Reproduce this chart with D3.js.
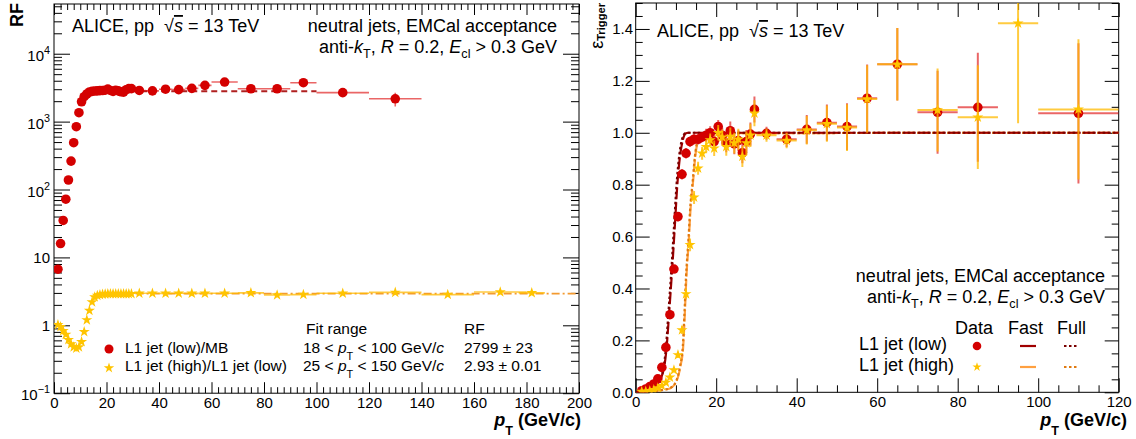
<!DOCTYPE html>
<html><head><meta charset="utf-8">
<script src="https://cdn.jsdelivr.net/npm/d3@7"></script>
<style>
body{margin:0;background:#fff}
svg{display:block}
text{font-family:"Liberation Sans",Arial,Helvetica,sans-serif;white-space:pre}
</style>
</head><body>
<svg id="c" width="1136" height="439"></svg>
<script>
// ================= DATA =================
// Left panel: rejection factor RF vs pT
const rfLowX = [1.5,2.5,3.5,4.5,5.5,6.5,7.5,8.5,9.5,10.5,11.5,12.5,13.5,14.5,15.5,16.5,17.5,18.5,19.5,20.5,21.5,22.5,23.5,24.5,25.5,26.5,27.5,28.5,29.5,32.5,37.5,42.5,47.5,52.5,57.5,65,75,85,95,110,130];
const rfLowY = [6.7,16,35,72,138,262,489,841,1352,1963,2330,2550,2730,2790,2820,2840,2860,2870,2900,3020,2880,2780,2900,2840,2750,2720,2950,3060,3060,2880,2840,3000,2960,3090,3420,3830,3050,3050,3740,2670,2170];
const rfLowErr = [0.5,1,2,3,5,8,12,18,25,35,40,45,50,50,50,50,50,50,55,55,60,60,60,60,65,65,70,70,70,60,70,80,100,120,160,250,220,260,400,350,500];
const rfLowXe = [0.5,0.5,0.5,0.5,0.5,0.5,0.5,0.5,0.5,0.5,0.5,0.5,0.5,0.5,0.5,0.5,0.5,0.5,0.5,0.5,0.5,0.5,0.5,0.5,0.5,0.5,0.5,0.5,0.5,2.5,2.5,2.5,2.5,2.5,2.5,5,5,5,5,10,10];

const rfHighX = [1.5,2.5,3.5,4.5,5.5,6.5,7.5,8.5,9.5,10.5,11.5,12.5,13.5,14.5,15.5,16.5,17.5,18.5,19.5,20.5,21.5,22.5,23.5,24.5,25.5,26.5,27.5,28.5,29.5,32.5,37.5,42.5,47.5,52.5,57.5,65,75,85,95,110,130,150,170,182];
const rfHighY = [1.02,0.95,0.83,0.73,0.61,0.53,0.48,0.46,0.48,0.57,0.80,1.2,1.65,2.2,2.6,2.75,2.82,2.86,2.88,2.9,2.9,2.92,2.9,2.91,2.9,2.92,2.9,2.91,2.92,2.96,2.96,2.95,2.96,2.95,2.95,2.96,3.0,2.8,2.83,2.96,3.05,2.83,3.1,3.0];
const rfHighErr = [0.03,0.02,0.015,0.012,0.01,0.008,0.008,0.008,0.008,0.01,0.012,0.015,0.02,0.02,0.02,0.02,0.02,0.02,0.02,0.02,0.02,0.02,0.02,0.02,0.02,0.02,0.02,0.02,0.02,0.02,0.02,0.025,0.03,0.03,0.04,0.04,0.05,0.06,0.07,0.06,0.07,0.09,0.12,0.14];
const rfHighXe = [0.5,0.5,0.5,0.5,0.5,0.5,0.5,0.5,0.5,0.5,0.5,0.5,0.5,0.5,0.5,0.5,0.5,0.5,0.5,0.5,0.5,0.5,0.5,0.5,0.5,0.5,0.5,0.5,0.5,2.5,2.5,2.5,2.5,2.5,2.5,5,5,5,5,10,10,10,10,5];

const fitLowRange = [18, 100];  const fitLowValue = 2799;
const fitHighRange = [25, 200]; const fitHighValue = 2.93;

// Right panel: trigger efficiency
const effLowX = [1.5,2.5,3.5,4.5,5.5,6.5,7.5,8.5,9.5,10.5,11.5,12.5,13.5,14.5,15.5,16.5,17.5,18.5,19.5,20.5,21.5,22.5,23.5,24.5,25.5,26.5,27.5,28.5,29.5,32.5,37.5,42.5,47.5,52.5,57.5,65,75,85,110];
const effLowY = [0.006,0.013,0.022,0.032,0.052,0.096,0.173,0.299,0.475,0.677,0.840,0.921,0.966,0.975,0.975,0.983,0.99,1.0,0.966,1.024,0.99,0.96,1.008,0.957,0.97,0.923,0.966,0.995,1.09,0.998,0.975,1.013,1.039,1.024,1.133,1.264,1.079,1.098,1.075];
const effLowErr = [0.002,0.003,0.004,0.005,0.006,0.008,0.01,0.012,0.015,0.018,0.02,0.02,0.02,0.02,0.02,0.02,0.025,0.025,0.03,0.025,0.03,0.035,0.035,0.04,0.04,0.04,0.045,0.045,0.05,0.025,0.03,0.055,0.07,0.09,0.13,0.14,0.16,0.21,0.27];
const effLowXe = [0.5,0.5,0.5,0.5,0.5,0.5,0.5,0.5,0.5,0.5,0.5,0.5,0.5,0.5,0.5,0.5,0.5,0.5,0.5,0.5,0.5,0.5,0.5,0.5,0.5,0.5,0.5,0.5,0.5,2.5,2.5,2.5,2.5,2.5,2.5,5,5,5,10];

const effHighX = [1.5,2.5,3.5,4.5,5.5,6.5,7.5,8.5,9.5,10.5,11.5,12.5,13.5,14.5,15.5,16.5,17.5,18.5,19.5,20.5,21.5,22.5,23.5,24.5,25.5,26.5,27.5,28.5,29.5,32.5,37.5,42.5,47.5,52.5,57.5,65,75,85,95,110];
const effHighY = [0.003,0.004,0.006,0.010,0.016,0.025,0.038,0.058,0.086,0.144,0.24,0.379,0.568,0.751,0.863,0.921,0.946,0.972,0.94,1.0,0.983,0.946,0.985,0.96,0.975,0.908,0.96,0.99,1.075,0.99,0.97,1.01,1.035,1.02,1.13,1.264,1.088,1.06,1.422,1.09];
const effHighErr = [0.001,0.001,0.002,0.002,0.003,0.004,0.005,0.007,0.009,0.012,0.015,0.02,0.025,0.025,0.025,0.025,0.025,0.025,0.03,0.03,0.03,0.035,0.035,0.04,0.04,0.04,0.045,0.045,0.05,0.025,0.03,0.055,0.07,0.09,0.13,0.14,0.16,0.2,0.385,0.27];
const effHighXe = [0.5,0.5,0.5,0.5,0.5,0.5,0.5,0.5,0.5,0.5,0.5,0.5,0.5,0.5,0.5,0.5,0.5,0.5,0.5,0.5,0.5,0.5,0.5,0.5,0.5,0.5,0.5,0.5,0.5,2.5,2.5,2.5,2.5,2.5,2.5,5,5,5,5,10];

// Simulation curves
const fastLowX = [0,2,3.6,5,6,7.1,7.7,8.3,9.1,9.8,10.3,11,11.7,12.5,13,120];
const fastLowY = [0,0.005,0.015,0.03,0.047,0.099,0.176,0.304,0.484,0.66,0.79,0.908,0.972,0.998,1,1];
const fullLowX = [0,2,3.5,4.9,5.9,6.9,7.5,8.1,8.9,9.6,10.1,10.8,11.5,12.3,12.8,120];
const fullLowY = [0,0.004,0.012,0.028,0.045,0.095,0.17,0.3,0.48,0.66,0.79,0.91,0.975,0.998,1,1];
const fastHighX = [0,3,5,7,8.5,9.9,11.1,11.8,12.2,12.6,13.2,13.6,14.3,14.8,15.4,16.1,16.9,120];
const fastHighY = [0,0.002,0.005,0.01,0.015,0.035,0.099,0.176,0.3,0.445,0.587,0.7,0.82,0.908,0.966,0.99,0.998,1];
const fullHighX = [0,3,5,7,8.4,9.8,11,11.7,12.1,12.5,13.1,13.5,14.2,14.7,15.3,16,16.8,120];
const fullHighY = [0,0.002,0.005,0.01,0.015,0.035,0.099,0.176,0.3,0.445,0.587,0.7,0.82,0.908,0.966,0.99,0.998,1];

// Tick labels
const leftXTicks = [0,20,40,60,80,100,120,140,160,180,200];
const leftYTicks = [0.1,1,10,100,1000,10000];
const leftYTickLabels = [['10','\u22121'],['1',''],['10',''],['10','2'],['10','3'],['10','4']];
const rightXTicks = [0,20,40,60,80,100,120];
const rightYTicks = [0,0.2,0.4,0.6,0.8,1.0,1.2,1.4];
const rightYTickLabels = ['0.0','0.2','0.4','0.6','0.8','1.0','1.2','1.4'];

// ================= DRAW =================
const svg = d3.select('#c');
svg.append('rect').attr('width',1136).attr('height',439).attr('fill','#fff');

const RED = '#d40000', YEL = '#ffc400';
const RED_BAR = 'rgba(220,0,0,0.6)', YEL_BAR = 'rgba(255,185,0,0.75)';

function rich(g, x, y, parts, o) {
  const size = o.size || 15;
  const subDy = (o.subDy == null ? 0.35 : o.subDy) * size;
  const supDy = -(o.supDy == null ? 0.45 : o.supDy) * size;
  const t = g.append('text').attr('font-size', size)
    .attr('text-anchor', o.anchor || 'start').attr('fill', '#000');
  if (o.transform) t.attr('transform', o.transform); else t.attr('x', x).attr('y', y);
  if (o.bold) t.attr('font-weight', 'bold');
  let shift = 0;
  parts.forEach(p => {
    const ts = t.append('tspan').text(p.t);
    const target = p.sub ? subDy : p.sup ? supDy : 0;
    if (target !== shift) { ts.attr('dy', target - shift); shift = target; }
    if (p.sub || p.sup) ts.attr('font-size', size * (o.subScale || 0.7));
    if (p.i) ts.attr('font-style', 'italic');
    if (p.b) ts.attr('font-weight', 'bold');
    if (p.nb) ts.attr('font-weight', 'normal');
    if (p.ol) ts.style('text-decoration', 'overline');
  });
  return t;
}

function styleAxis(sel) {
  sel.attr('font-size', 15).attr('font-family', '"Liberation Sans",Arial,sans-serif');
  sel.selectAll('.tick line').attr('stroke', '#000');
  sel.select('.domain').remove();
  sel.selectAll('.tick text').attr('fill', '#000');
}

// ---------- LEFT PANEL ----------
const gL = svg.append('g');
const xL = d3.scaleLinear().domain([0, 200]).range([54, 579]);
const yL = d3.scaleLog().domain([0.1, 5.4e4]).range([393.2, 4]);
const [L0, L1] = xL.range(), [LB, LT] = yL.range();

const xMinL = d3.range(0, 200.01, 2.5).filter(v => v % 20 !== 0);
const yMinL = [];
for (let k = -1; k <= 4; k++) for (let m = 2; m <= 9; m++) { const v = m * Math.pow(10, k); if (v < 5.4e4) yMinL.push(v); }

gL.append('g').attr('transform', `translate(0,${LB})`)
  .call(d3.axisBottom(xL).tickValues(xMinL).tickSize(-6).tickSizeOuter(0).tickFormat('')).call(styleAxis);
gL.append('g').attr('transform', `translate(0,${LB})`)
  .call(d3.axisBottom(xL).tickValues(leftXTicks).tickSize(-11).tickSizeOuter(0).tickPadding(4).tickFormat(d3.format('d'))).call(styleAxis);
gL.append('g').attr('transform', `translate(0,${LT})`)
  .call(d3.axisTop(xL).tickValues(xMinL).tickSize(-6).tickSizeOuter(0).tickFormat('')).call(styleAxis);
gL.append('g').attr('transform', `translate(0,${LT})`)
  .call(d3.axisTop(xL).tickValues(leftXTicks).tickSize(-11).tickSizeOuter(0).tickFormat('')).call(styleAxis);

gL.append('g').attr('transform', `translate(${L0},0)`)
  .call(d3.axisLeft(yL).tickValues(yMinL).tickSize(-8).tickSizeOuter(0).tickFormat('')).call(styleAxis);
gL.append('g').attr('transform', `translate(${L0},0)`)
  .call(d3.axisLeft(yL).tickValues(leftYTicks).tickSize(-16).tickSizeOuter(0).tickPadding(4).tickFormat('')).call(styleAxis);
gL.append('g').attr('transform', `translate(${L1},0)`)
  .call(d3.axisRight(yL).tickValues(yMinL).tickSize(-8).tickSizeOuter(0).tickFormat('')).call(styleAxis);
gL.append('g').attr('transform', `translate(${L1},0)`)
  .call(d3.axisRight(yL).tickValues(leftYTicks).tickSize(-16).tickSizeOuter(0).tickFormat('')).call(styleAxis);

leftYTicks.forEach((v, i) => {
  const [base, pw] = leftYTickLabels[i];
  const parts = [{ t: base }];
  if (pw) parts.push({ t: pw, sup: 1 });
  rich(gL, 50, yL(v) + (pw ? 7 : 5.5), parts, { size: 15, anchor: 'end', supDy: 0.45, subScale: 0.72 });
});

gL.append('rect').attr('x', L0).attr('y', LT).attr('width', L1 - L0).attr('height', LB - LT)
  .attr('fill', 'none').attr('stroke', '#000').attr('stroke-width', 1);

svg.append('clipPath').attr('id', 'clipL').append('rect').attr('x', L0).attr('y', LT).attr('width', L1 - L0).attr('height', LB - LT);
const dL = gL.append('g').attr('clip-path', 'url(#clipL)');

// fits
dL.append('line').attr('x1', xL(fitLowRange[0])).attr('x2', xL(fitLowRange[1]))
  .attr('y1', yL(fitLowValue)).attr('y2', yL(fitLowValue))
  .attr('stroke', '#b02020').attr('stroke-width', 2).attr('stroke-dasharray', '6,4');
dL.append('line').attr('x1', xL(fitHighRange[0])).attr('x2', xL(fitHighRange[1]))
  .attr('y1', yL(fitHighValue)).attr('y2', yL(fitHighValue))
  .attr('stroke', '#f39a30').attr('stroke-width', 1.6).attr('stroke-dasharray', '8,3,2,3');

function errBars(g, xs, ys, xe, ye, x, y, color, w) {
  const idx = d3.range(xs.length);
  g.append('g').selectAll('line').data(idx).join('line')
    .attr('x1', i => x(xs[i] - xe[i])).attr('x2', i => x(xs[i] + xe[i]))
    .attr('y1', i => y(ys[i])).attr('y2', i => y(ys[i]))
    .attr('stroke', color).attr('stroke-width', w);
  g.append('g').selectAll('line').data(idx).join('line')
    .attr('x1', i => x(xs[i])).attr('x2', i => x(xs[i]))
    .attr('y1', i => y(Math.max(ys[i] - ye[i], 1e-3))).attr('y2', i => y(ys[i] + ye[i]))
    .attr('stroke', color).attr('stroke-width', w);
}
function circles(g, xs, ys, x, y, r) {
  g.append('g').selectAll('circle').data(d3.range(xs.length)).join('circle')
    .attr('cx', i => x(xs[i])).attr('cy', i => y(ys[i])).attr('r', r).attr('fill', RED);
}
function stars(g, xs, ys, x, y, size) {
  const p = d3.symbol(d3.symbolStar, size)();
  g.append('g').selectAll('path').data(d3.range(xs.length)).join('path')
    .attr('d', p).attr('transform', i => `translate(${x(xs[i])},${y(ys[i])})`).attr('fill', YEL);
}

errBars(dL, rfLowX, rfLowY, rfLowXe, rfLowErr, xL, yL, RED_BAR, 1.6);
circles(dL, rfLowX, rfLowY, xL, yL, 4.8);
errBars(dL, rfHighX, rfHighY, rfHighXe, rfHighErr, xL, yL, YEL_BAR, 1.6);
stars(dL, rfHighX, rfHighY, xL, yL, 38);

// texts left
rich(gL, 72, 32, [{ t: 'ALICE, pp  ' }, { t: '\u221A' }, { t: 's', i: 1, ol: 1 }, { t: ' = 13 TeV' }], { size: 18 });
rich(gL, 557, 32, [{ t: 'neutral jets, EMCal acceptance' }], { size: 18, anchor: 'end' });
rich(gL, 557, 52.5, [{ t: 'anti-' }, { t: 'k', i: 1 }, { t: 'T', sub: 1 }, { t: ', ' }, { t: 'R', i: 1 }, { t: ' = 0.2, ' }, { t: 'E', i: 1 }, { t: 'cl', sub: 1 }, { t: ' > 0.3 GeV' }], { size: 18, anchor: 'end', subDy: 0.28 });

// legend left
gL.append('circle').attr('cx', 109).attr('cy', 349).attr('r', 4.5).attr('fill', RED);
gL.append('path').attr('d', d3.symbol(d3.symbolStar, 34)()).attr('transform', 'translate(109,368)').attr('fill', YEL);
rich(gL, 125, 353, [{ t: 'L1 jet (low)/MB' }], { size: 15.5 });
rich(gL, 125, 371, [{ t: 'L1 jet (high)/L1 jet (low)' }], { size: 15.5 });
rich(gL, 306, 334, [{ t: 'Fit range' }], { size: 15.5 });
rich(gL, 303, 353, [{ t: '18 < ' }, { t: 'p', i: 1 }, { t: 'T', sub: 1 }, { t: ' < 100 GeV/' }, { t: 'c', i: 1 }], { size: 15.5, subDy: 0.45 });
rich(gL, 303, 371, [{ t: '25 < ' }, { t: 'p', i: 1 }, { t: 'T', sub: 1 }, { t: ' < 150 GeV/' }, { t: 'c', i: 1 }], { size: 15.5, subDy: 0.45 });
rich(gL, 464, 334, [{ t: 'RF' }], { size: 15.5 });
rich(gL, 464, 353, [{ t: '2799 \u00B1 23' }], { size: 15.5 });
rich(gL, 464, 371, [{ t: '2.93 \u00B1 0.01' }], { size: 15.5 });

// axis titles left
rich(gL, 581, 425.5, [{ t: 'p', i: 1 }, { t: 'T', sub: 1 }, { t: ' (GeV/c)' }], { size: 18, bold: 1, anchor: 'end', subDy: 0.5 });
rich(gL, 0, 0, [{ t: 'RF' }], { size: 18, bold: 1, anchor: 'end', transform: 'translate(23,3) rotate(-90)' });

// ---------- RIGHT PANEL ----------
const gR = svg.append('g');
const xR = d3.scaleLinear().domain([0, 120]).range([635.7, 1118.7]);
const yR = d3.scaleLinear().domain([0, 1.5]).range([392.3, 3]);
const [R0, R1] = xR.range(), [RB, RT] = yR.range();
const xMinR = d3.range(0, 120.01, 5).filter(v => v % 20 !== 0);
const yMinR = d3.range(0, 1.5001, 0.05).filter(v => Math.abs(v * 5 - Math.round(v * 5)) > 1e-6);

gR.append('g').attr('transform', `translate(0,${RB})`)
  .call(d3.axisBottom(xR).tickValues(xMinR).tickSize(-7).tickSizeOuter(0).tickFormat('')).call(styleAxis);
gR.append('g').attr('transform', `translate(0,${RB})`)
  .call(d3.axisBottom(xR).tickValues(rightXTicks).tickSize(-14).tickSizeOuter(0).tickPadding(4).tickFormat(d3.format('d'))).call(styleAxis);
gR.append('g').attr('transform', `translate(0,${RT})`)
  .call(d3.axisTop(xR).tickValues(xMinR).tickSize(-7).tickSizeOuter(0).tickFormat('')).call(styleAxis);
gR.append('g').attr('transform', `translate(0,${RT})`)
  .call(d3.axisTop(xR).tickValues(rightXTicks).tickSize(-14).tickSizeOuter(0).tickFormat('')).call(styleAxis);
gR.append('g').attr('transform', `translate(${R0},0)`)
  .call(d3.axisLeft(yR).tickValues(yMinR).tickSize(-7).tickSizeOuter(0).tickFormat('')).call(styleAxis);
gR.append('g').attr('transform', `translate(${R0},0)`)
  .call(d3.axisLeft(yR).tickValues(rightYTicks).tickSize(-14).tickSizeOuter(0).tickPadding(2.7)
    .tickFormat((d, i) => rightYTickLabels[i])).call(styleAxis);
gR.append('g').attr('transform', `translate(${R1},0)`)
  .call(d3.axisRight(yR).tickValues(yMinR).tickSize(-7).tickSizeOuter(0).tickFormat('')).call(styleAxis);
gR.append('g').attr('transform', `translate(${R1},0)`)
  .call(d3.axisRight(yR).tickValues(rightYTicks).tickSize(-14).tickSizeOuter(0).tickFormat('')).call(styleAxis);

gR.append('rect').attr('x', R0).attr('y', RT).attr('width', R1 - R0).attr('height', RB - RT)
  .attr('fill', 'none').attr('stroke', '#000').attr('stroke-width', 1);

svg.append('clipPath').attr('id', 'clipR').append('rect').attr('x', R0).attr('y', RT).attr('width', R1 - R0).attr('height', RB - RT);
const dR = gR.append('g').attr('clip-path', 'url(#clipR)');

const line = (xs, ys) => d3.line().x(i => xR(xs[i])).y(i => yR(ys[i])).curve(d3.curveMonotoneX)(d3.range(xs.length));
const curves = [
  [fastHighX, fastHighY, '#ffa040', '12,3'],
  [fullHighX, fullHighY, '#e07a10', '2.5,2.5'],
  [fastLowX, fastLowY, '#a00000', '12,3'],
  [fullLowX, fullLowY, '#7a0000', '2.5,2.5'],
];
curves.forEach(([xs, ys, c, dash]) => {
  dR.append('path').attr('d', line(xs, ys)).attr('fill', 'none').attr('stroke', c)
    .attr('stroke-width', 2.2).attr('stroke-dasharray', dash);
});

errBars(dR, effLowX, effLowY, effLowXe, effLowErr, xR, yR, RED_BAR, 2);
circles(dR, effLowX, effLowY, xR, yR, 4.8);
errBars(dR, effHighX, effHighY, effHighXe, effHighErr, xR, yR, YEL_BAR, 2);
stars(dR, effHighX, effHighY, xR, yR, 38);

// texts right
rich(gR, 657, 37, [{ t: 'ALICE, pp  ' }, { t: '\u221A' }, { t: 's', i: 1, ol: 1 }, { t: ' = 13 TeV' }], { size: 18 });
rich(gR, 1105, 281.5, [{ t: 'neutral jets, EMCal acceptance' }], { size: 18, anchor: 'end' });
rich(gR, 1105, 302.5, [{ t: 'anti-' }, { t: 'k', i: 1 }, { t: 'T', sub: 1 }, { t: ', ' }, { t: 'R', i: 1 }, { t: ' = 0.2, ' }, { t: 'E', i: 1 }, { t: 'cl', sub: 1 }, { t: ' > 0.3 GeV' }], { size: 18, anchor: 'end', subDy: 0.28 });

// legend right
rich(gR, 955, 334, [{ t: 'Data' }], { size: 18 });
rich(gR, 1008, 334, [{ t: 'Fast' }], { size: 18 });
rich(gR, 1057, 334, [{ t: 'Full' }], { size: 18 });
rich(gR, 859, 349.5, [{ t: 'L1 jet (low)' }], { size: 18 });
rich(gR, 859, 371, [{ t: 'L1 jet (high)' }], { size: 18 });
gR.append('circle').attr('cx', 977).attr('cy', 346).attr('r', 4.3).attr('fill', RED);
gR.append('path').attr('d', d3.symbol(d3.symbolStar, 26)()).attr('transform', 'translate(977,367)').attr('fill', YEL);
[[346, '#a00000', '#7a0000'], [367, '#ffa040', '#e07a10']].forEach(([yy, cf, cu]) => {
  gR.append('line').attr('x1', 1020).attr('x2', 1036).attr('y1', yy).attr('y2', yy).attr('stroke', cf).attr('stroke-width', 2.2);
  gR.append('line').attr('x1', 1064).attr('x2', 1079).attr('y1', yy).attr('y2', yy).attr('stroke', cu).attr('stroke-width', 2.2).attr('stroke-dasharray', '2.5,2.5');
});

// axis titles right
rich(gR, 1127, 425.5, [{ t: 'p', i: 1 }, { t: 'T', sub: 1 }, { t: ' (GeV/c)' }], { size: 18, bold: 1, anchor: 'end', subDy: 0.5 });
rich(gR, 0, 0, [{ t: '\u03B5', nb: 1 }, { t: 'Trigger', sub: 1 }], { size: 18, bold: 1, anchor: 'end', subDy: 0.12, subScale: 0.62, transform: 'translate(603,3) rotate(-90)' });
</script>
</body></html>
